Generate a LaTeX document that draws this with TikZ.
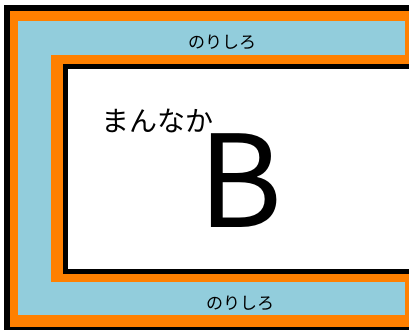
\documentclass[tikz,border=0pt]{standalone}
\usepackage{fontspec}
\setmainfont{Noto Sans CJK JP}
\usetikzlibrary{positioning}
\definecolor{gluefill}{HTML}{92CDDC}
\definecolor{edgefill}{HTML}{FF8000}
\tikzset{
  every node/.style={inner sep=0pt},
  sheet/.style={draw=black, line width=6pt, fill=edgefill},
  glue/.style={font=\fontsize{17}{17}\selectfont},
}

\begin{document}
\begin{tikzpicture}[x=1pt, y=-1pt]
  \useasboundingbox (0,0) rectangle (409,329);
  \clip (0,0) rectangle (409,329);
  \fill[white] (0,0) rectangle (409,329);
  % outer sheet with its margin
  \draw[sheet] (7,8) rectangle (416,330);
  \fill[gluefill] (18,21) rectangle (405,315);
  % inner sheet
  \fill[edgefill] (51,55) rectangle (420,282);
  \draw[line width=5pt, fill=white] (65.5,66.5) rectangle (425,271.5);
  \node (gluetop) [glue] at (222,42) {のりしろ};
  \node (gluebot) [glue] at (240,303) {のりしろ};
  \node (mid) [font=\fontsize{28}{28}\selectfont] at (157,121) {まんなか};
  \node (letter) [font=\fontsize{128}{128}\selectfont] at (240.5,180.5) {B};
\end{tikzpicture}
\end{document}
